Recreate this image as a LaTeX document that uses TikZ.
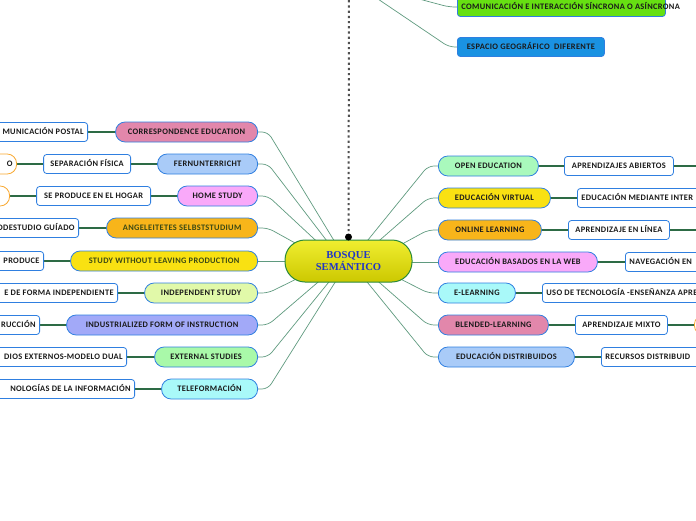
\documentclass[tikz,border=0pt]{standalone}
\usepackage{fontspec}
\setmainfont{Carlito}[LetterSpace=4]
\newfontfamily\serifb{Liberation Serif}
\usetikzlibrary{calc,backgrounds}
\definecolor{bordblue}{HTML}{2F7FE0}
\definecolor{orborder}{HTML}{F8A830}
\definecolor{txt}{HTML}{1A1A1A}
\definecolor{olivetxt}{HTML}{3C4A14}
\definecolor{spokecol}{HTML}{5F9A7F}
\definecolor{linkcol}{HTML}{2D6B45}
\definecolor{cpink}{HTML}{E287AB}
\definecolor{clblue}{HTML}{A9CBF8}
\definecolor{cviolet}{HTML}{F9A9F9}
\definecolor{corange}{HTML}{F8B51A}
\definecolor{cyellow}{HTML}{F9E112}
\definecolor{cyg}{HTML}{E1F9A9}
\definecolor{cperi}{HTML}{A2A9F8}
\definecolor{clgreen}{HTML}{A9F9A9}
\definecolor{cmint}{HTML}{A9F9BC}
\definecolor{ccyan}{HTML}{A9F9F9}
\definecolor{ctopgreen}{HTML}{66E012}
\definecolor{ctopblue}{HTML}{1A92E2}
\definecolor{cgreen}{HTML}{2A8A3A}
\definecolor{ctop}{HTML}{F0EE30}
\definecolor{cbot}{HTML}{CCC800}
\definecolor{cblue}{HTML}{1F35C8}
\definecolor{dotcol}{HTML}{505050}
\newcommand{\rtext}[1]{\makebox[200pt][r]{#1}}
\newcommand{\ltext}[1]{\makebox[200pt][l]{#1}}
\begin{document}
\begin{tikzpicture}[x=1pt,y=-1pt,
  base/.style={line width=0.8pt, inner xsep=4pt, inner ysep=0pt, text height=5.5pt, text depth=0pt,
    font=\fontsize{8.4}{10}\selectfont\bfseries, text=txt},
  lone/.style={base, draw=bordblue, rounded corners=9.5pt, minimum height=20pt},
  ltwo/.style={base, draw=bordblue, fill=white, rounded corners=3pt, minimum height=19pt},
  orng/.style={base, draw=orborder, fill=white, rounded corners=9.5pt, minimum height=20pt},
  cutl/.style={ltwo, anchor=east},
  cutr/.style={ltwo, anchor=west},
  spoke/.style={draw=spokecol, line width=0.7pt, rounded corners=6pt},
  link/.style={draw=linkcol, line width=1.4pt}]
\useasboundingbox (0,0) rectangle (696,520);
\clip (0,0) rectangle (696,520);

% central node
\node[draw=cgreen, line width=1pt, top color=ctop, bottom color=cbot, rounded corners=20pt,
  minimum width=127pt, minimum height=42pt, align=center, inner sep=0pt,
  font=\serifb\bfseries\fontsize{10.6}{11.5}\selectfont, text=cblue] (c) at (348.5,261) {BOSQUE\\SEMÁNTICO};

% dotted line to the top
\coordinate (dtop) at (349,-5);
\node[circle, fill=black, inner sep=0pt, minimum size=7pt] (dot) at (348.5,237) {};

% top nodes
\node[cutr, fill=ctopgreen] (com) at (457,7) {\ltext{COMUNICACIÓN E INTERACCIÓN SÍNCRONA O ASÍNCRONA}};
\node[ltwo, fill=ctopblue, minimum width=147pt, anchor=west] (esp) at (457,47) {ESPACIO GEOGRÁFICO\ \ DIFERENTE};
\coordinate (tp1) at (372,-5);
\coordinate (tp2) at (404,-5);

% left level 1
\node[lone, fill=cpink, minimum width=142pt, anchor=east] (corr) at (258,132) {CORRESPONDENCE EDUCATION};
\node[lone, fill=clblue, minimum width=100pt, anchor=east] (fern) at (258,164) {FERNUNTERRICHT};
\node[lone, fill=cviolet, minimum width=80pt, anchor=east] (home) at (258,196) {HOME STUDY};
\node[lone, fill=corange, minimum width=151pt, anchor=east, text=olivetxt] (ange) at (258,228) {ANGELEITETES SELBSTSTUDIUM};
\node[lone, fill=cyellow, minimum width=187pt, anchor=east, text=olivetxt] (swlp) at (258,261) {STUDY WITHOUT LEAVING PRODUCTION};
\node[lone, fill=cyg, minimum width=113pt, anchor=east] (indep) at (258,293) {INDEPENDENT STUDY};
\node[lone, fill=cperi, minimum width=191pt, anchor=east] (indus) at (258,325) {INDUSTRIALIZED FORM OF INSTRUCTION};
\node[lone, fill=clgreen, minimum width=103pt, anchor=east] (ext) at (258,357) {EXTERNAL STUDIES};
\node[lone, fill=ccyan, minimum width=96pt, anchor=east] (tele) at (258,389) {TELEFORMACIÓN};

% left level 2
\node[cutl] (post) at (88,132) {\rtext{MUNICACIÓN POSTAL}};
\node[ltwo, minimum width=87pt, anchor=east] (sep) at (131,164) {SEPARACIÓN FÍSICA};
\node[orng, anchor=east] (o1) at (17,164) {\rtext{O}};
\node[ltwo, minimum width=114pt, anchor=east] (hogar) at (151,196) {SE PRODUCE EN EL HOGAR};
\node[orng, minimum width=60pt, anchor=east] (o2) at (10,196) {};
\node[cutl] (guia) at (79,228) {\rtext{ODESTUDIO GUÍADO}};
\node[cutl] (prod) at (44,261) {\rtext{PRODUCE}};
\node[cutl] (forma) at (118,293) {\rtext{E DE FORMA INDEPENDIENTE}};
\node[cutl] (rucc) at (40,325) {\rtext{RUCCIÓN}};
\node[cutl] (dual) at (127,357) {\rtext{DIOS EXTERNOS-MODELO DUAL}};
\node[cutl] (tecinf) at (135,389) {\rtext{NOLOGÍAS DE LA INFORMACIÓN}};

% right level 1
\node[lone, fill=cmint, minimum width=100pt, anchor=west] (open) at (438,166) {OPEN EDUCATION};
\node[lone, fill=cyellow, minimum width=112pt, anchor=west] (virt) at (438,198) {EDUCACIÓN VIRTUAL};
\node[lone, fill=corange, minimum width=103pt, anchor=west] (online) at (438,230) {ONLINE LEARNING};
\node[lone, fill=cviolet, minimum width=159pt, anchor=west] (web) at (438,262) {EDUCACIÓN BASADOS EN LA WEB};
\node[lone, fill=ccyan, minimum width=77pt, anchor=west] (elearn) at (438,293) {E-LEARNING};
\node[lone, fill=cpink, minimum width=110pt, anchor=west] (blend) at (438,325) {BLENDED-LEARNING};
\node[lone, fill=clblue, minimum width=136pt, anchor=west] (distr) at (438,357) {EDUCACIÓN DISTRIBUIDOS};

% right level 2
\node[ltwo, minimum width=109pt, anchor=west] (abie) at (564,166) {APRENDIZAJES ABIERTOS};
\node[cutr] (inter) at (577,198) {\ltext{EDUCACIÓN MEDIANTE INTER}};
\node[ltwo, minimum width=101pt, anchor=west] (linea) at (568,230) {APRENDIZAJE EN LÍNEA};
\node[cutr] (naveg) at (625,262) {\ltext{NAVEGACIÓN EN}};
\node[cutr] (uso) at (542,293) {\ltext{USO DE TECNOLOGÍA -ENSEÑANZA APRE}};
\node[ltwo, minimum width=92pt, anchor=west] (mixto) at (575,325) {APRENDIZAJE MIXTO};
\node[orng, minimum width=60pt, anchor=west] (o3) at (694,325) {};
\node[cutr] (recur) at (601,357) {\ltext{RECURSOS DISTRIBUID}};
\coordinate (r1) at (720,166);
\coordinate (r2) at (720,230);

\begin{pgfonlayer}{background}
  % dotted line
  \draw[dotcol, line width=2pt, dash pattern=on 2.2pt off 3pt] (dtop) -- (dot);
  % top spokes
  \draw[spoke] (tp1) -- ($(esp.west)+(-8,0)$) -- (esp.west);
  \draw[spoke] (tp2) -- ($(com.west)+(-8,0)$) -- (com.west);
  % left spokes
  \draw[spoke] ($(c.center)+(-13,-18)$) -- ($(corr.east)+(10,0)$) -- (corr.east);
  \draw[spoke] ($(c.center)+(-20,-18)$) -- ($(fern.east)+(10,0)$) -- (fern.east);
  \draw[spoke] ($(c.center)+(-30,-18)$) -- ($(home.east)+(10,0)$) -- (home.east);
  \draw[spoke] ($(c.center)+(-48,-15)$) -- ($(ange.east)+(10,0)$) -- (ange.east);
  \draw[spoke] ($(c.center)+(-55,0)$) -- (swlp.east);
  \draw[spoke] ($(c.center)+(-50,17)$) -- ($(indep.east)+(10,0)$) -- (indep.east);
  \draw[spoke] ($(c.center)+(-28,19)$) -- ($(indus.east)+(10,0)$) -- (indus.east);
  \draw[spoke] ($(c.center)+(-18,19)$) -- ($(ext.east)+(10,0)$) -- (ext.east);
  \draw[spoke] ($(c.center)+(-12,19)$) -- ($(tele.east)+(10,0)$) -- (tele.east);
  % right spokes
  \draw[spoke] ($(c.center)+(17,-18)$) -- ($(open.west)+(-10,0)$) -- (open.west);
  \draw[spoke] ($(c.center)+(28,-18)$) -- ($(virt.west)+(-10,0)$) -- (virt.west);
  \draw[spoke] ($(c.center)+(50,-15)$) -- ($(online.west)+(-10,0)$) -- (online.west);
  \draw[spoke] ($(c.center)+(55,1)$) -- (web.west);
  \draw[spoke] ($(c.center)+(50,17)$) -- ($(elearn.west)+(-10,0)$) -- (elearn.west);
  \draw[spoke] ($(c.center)+(28,19)$) -- ($(blend.west)+(-10,0)$) -- (blend.west);
  \draw[spoke] ($(c.center)+(17,19)$) -- ($(distr.west)+(-10,0)$) -- (distr.west);
  % links
  \draw[link] (corr.west) -- (post.east);
  \draw[link] (fern.west) -- (sep.east);
  \draw[link] (sep.west) -- (o1.east);
  \draw[link] (home.west) -- (hogar.east);
  \draw[link] (hogar.west) -- (o2.east);
  \draw[link] (ange.west) -- (guia.east);
  \draw[link] (swlp.west) -- (prod.east);
  \draw[link] (indep.west) -- (forma.east);
  \draw[link] (indus.west) -- (rucc.east);
  \draw[link] (ext.west) -- (dual.east);
  \draw[link] (tele.west) -- (tecinf.east);
  \draw[link] (open.east) -- (abie.west);
  \draw[link] (abie.east) -- (r1);
  \draw[link] (virt.east) -- (inter.west);
  \draw[link] (online.east) -- (linea.west);
  \draw[link] (linea.east) -- (r2);
  \draw[link] (web.east) -- (naveg.west);
  \draw[link] (elearn.east) -- (uso.west);
  \draw[link] (blend.east) -- (mixto.west);
  \draw[link] (mixto.east) -- (o3.west);
  \draw[link] (distr.east) -- (recur.west);
\end{pgfonlayer}
\end{tikzpicture}
\end{document}
